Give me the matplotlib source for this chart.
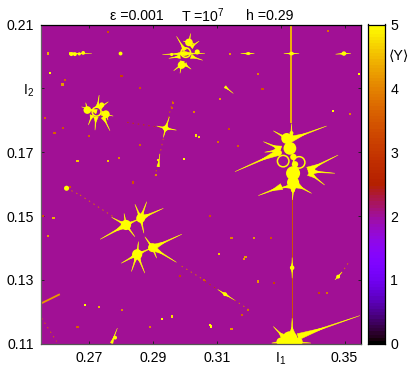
import numpy as np
import matplotlib
matplotlib.use('Agg')
import matplotlib.pyplot as plt
from matplotlib.patches import Circle

plt.rcParams['font.family'] = ['Liberation Sans', 'DejaVu Sans']
plt.rcParams['mathtext.default'] = 'regular'

# ---- data (I1, I2 action coordinates, <Y> values) ----
background_Y = 2.0
I1_range = [0.255, 0.355]
I2_range = [0.11, 0.21]
x_ticks = [0.27, 0.29, 0.31, 0.33, 0.35]
x_labels = ['0.27', '0.29', '0.31', r'I$_1$', '0.35']
y_ticks = [0.11, 0.13, 0.15, 0.17, 0.19, 0.21]
y_labels = ['0.11', '0.13', '0.15', '0.17', r'I$_2$', '0.21']
cb_ticks = [0, 1, 2, 3, 4, 5]

# strong resonance spikes: start I1, start I2, tip I1, tip I2
spikes_top_ring = [(.2998,.2009,.2930,.2006),(.2998,.2009,.3063,.2009),(.3013,.2040,.3018,.2072),
                   (.3000,.2020,.2974,.2063),(.2992,.1985,.2985,.1947),(.3020,.2000,.3056,.1988),
                   (.2985,.2000,.2950,.1994),(.3020,.2030,.3045,.2048),(.2990,.1975,.2965,.1955),
                   (.3000,.1975,.3020,.1960),(.3013,.2044,.2995,.2048),(.3013,.2044,.3030,.2040)]
spikes_left_ring = [(.2724,.1827,.2677,.1842),(.2727,.1840,.2732,.1879),(.2735,.1840,.2761,.1858),
                    (.2740,.1822,.2776,.1813),(.2710,.1815,.2698,.1785),(.2722,.1810,.2719,.1769),
                    (.2745,.1810,.2766,.1767),(.2695,.1832,.2690,.1855),(.2753,.1819,.2760,.1800)]
spikes_mid_star = [(.2940,.1775,.2912,.1782),(.2940,.1775,.2974,.1769),(.2940,.1775,.2952,.1811),
                   (.2940,.1775,.2933,.1746)]
spikes_big_upper = [(.3319,.1743,.3277,.1767),(.3330,.1740,.3444,.1782),(.3300,.1710,.3246,.1733),
                    (.3295,.1700,.3157,.1639),(.3334,.1740,.3334,.1790),(.3290,.1705,.3250,.1700)]
spikes_big_lower = [(.3386,.1644,.3480,.1691),(.3390,.1640,.3470,.1634),(.3390,.1635,.3438,.1597),
                    (.3339,.1595,.3272,.1583),(.3303,.1592,.3230,.1564),(.3350,.1597,.3397,.1571),
                    (.3339,.1590,.3337,.1550)]
spikes_bottom = [(.3355,.1122,.3548,.1188),(.3310,.1120,.3277,.1154),(.3336,.1130,.3336,.1180),
                 (.3300,.1105,.3272,.1102),(.3340,.1105,.3395,.1102)]
spikes_quad = [(.2816,.1472,.2735,.1427),(.2816,.1472,.2771,.1496),(.2816,.1472,.2810,.1508),
               (.2816,.1472,.2844,.1435),(.2862,.1493,.2844,.1537),(.2862,.1493,.2881,.1545),
               (.2862,.1493,.2933,.1524),(.2862,.1493,.2872,.1446),(.2851,.1380,.2801,.1352),
               (.2851,.1380,.2833,.1326),(.2851,.1380,.2875,.1321),(.2851,.1380,.2855,.1420),
               (.2899,.1401,.2875,.1435),(.2899,.1401,.2991,.1443),(.2899,.1401,.2912,.1368),
               (.2899,.1401,.2974,.1355),(.2816,.1472,.2862,.1493),(.2851,.1380,.2899,.1401)]
spikes_small = [(.3126,.1255,.3103,.1270),(.3126,.1255,.3155,.1237),(.2771,.1102,.2789,.1149),
                (.2639,.2009,.2709,.2009),(.3334,.2009,.3310,.2009),(.3334,.2009,.3358,.2009),
                (.3480,.1310,.3492,.1325),(.3480,.1310,.3470,.1300),(.3336,.1338,.3336,.1370),
                (.3336,.1338,.3336,.1305),(.3498,.2009,.3472,.2007),(.3498,.2009,.3520,.2009),
                (.3199,.2009,.3175,.2009),(.3199,.2009,.3218,.2009),(.3126,.1905,.3152,.1884),
                (.2917,.1655,.2922,.1695)]

# blobs saturated at <Y> = 5: I1, I2, radius
blobs = [(.3013,.2044,.0012),(.3039,.2014,.0008),(.2990,.1973,.0012),(.2959,.2006,.0005),
         (.2695,.1832,.0012),(.2753,.1819,.0012),(.2740,.1848,.0008),(.2940,.1775,.0008),
         (.2656,.2007,.0006),(.2645,.2007,.0006),(.2682,.2011,.0006),(.2670,.2008,.0005),
         (.2799,.2009,.0006),(.2630,.1587,.0008),
         (.3334,.2009,.0006),(.3498,.2009,.0007),(.3199,.2009,.0004),
         (.3329,.1712,.0020),(.3319,.1743,.0017),(.3334,.1760,.0006),(.3339,.1634,.0022),
         (.3339,.1605,.0019),(.3397,.1642,.0012),(.3295,.1698,.0009),(.3340,.1685,.0010),
         (.3345,.1662,.0010),(.3339,.1580,.0006),
         (.2816,.1472,.0016),(.2862,.1493,.0014),(.2851,.1380,.0016),(.2899,.1401,.0014),
         (.3329,.1115,.0024),(.3300,.1106,.0013),(.3356,.1106,.0013),(.3336,.1338,.0007),
         (.3126,.1255,.0006),(.3480,.1310,.0006),(.2782,.1119,.0006)]

# ring-shaped islands: I1, I2, radius
rings = [(.3003,.2012,.0015),(.2724,.1827,.0014),(.3358,.1668,.0018),(.3308,.1672,.0018)]

# orange/gold isolated resonance specks: I1, I2, <Y>
specks_I1 = [.2664,.2759,.2795,.2917,.2998,.3044,.3036,.2964,.2960,.2592,.2617,.2571,.2578,.2563,.2860,
             .2759,.2860,.3030,.2802,.3230,.3110,.3449,.3517,.3105,.3167,.3138,.3243,.3141,.3546,
             .3465,.3108,.3186,.3190,.3217,.3146,.3079,.3083,.3146,.3230,.3444,.2928,.2959,.2589,
             .2571,.2731,.2688,.2804,.2664,.3199,.3180,.2556,.2910,.2838,.2985,.3060,.2890,.3280,
             .2640,.2625,.3080,.3270,.3420,.2620,.2700]
specks_I2 = [.1673,.1672,.1681,.1676,.1678,.1748,.1752,.1853,.1838,.1761,.1912,.2009,.1947,.1806,.1902,
             .2077,.1722,.1825,.1938,.1945,.1866,.2079,.1819,.1733,.1720,.1772,.1899,.2007,.1945,
             .1829,.1381,.1365,.1372,.1430,.1430,.1159,.1154,.1146,.1295,.1258,.1177,.1185,.1493,
             .1438,.1214,.1221,.1206,.1153,.1206,.1190,.1500,.1628,.1605,.1312,.1300,.1152,.1290,
             .1590,.1925,.1500,.1430,.1260,.1775,.1750]
specks_Y = [4.6,4.6,4.0,4.8,5.0,4.8,4.8,3.8,3.6,3.6,4.2,4.4,5.0,3.6,3.4,
            3.4,3.6,4.0,3.2,4.0,4.2,3.8,4.0,3.8,3.6,3.4,3.4,4.2,5.0,
            5.0,4.6,4.2,4.2,4.2,4.0,5.0,5.0,4.2,4.2,3.8,5.0,4.8,4.4,
            4.2,4.4,5.0,4.0,3.6,3.8,3.6,3.4,4.0,3.4,3.2,3.6,4.0,3.2,3.4,3.6,3.4,3.4,3.2,3.4,3.6]

# solid thin filaments: start I1, start I2, end I1, end I2, <Y>
filaments = [(.3334,.2100,.3334,.1790,4.55),(.3336,.1555,.3336,.1150,3.4),
             (.2552,.1227,.2609,.1255,4.2)]
# broken faint filaments: start I1, start I2, end I1, end I2, <Y>
dotted_filaments = [(.2940,.1775,.2964,.1868,3.6),(.2940,.1775,.2907,.1625,3.6),(.2940,.1775,.2810,.1795,3.0),
                    (.2672,.1566,.2780,.1495,3.8),(.2630,.1587,.2672,.1566,3.8),(.2990,.1343,.3068,.1295,3.8),
                    (.3155,.1237,.3209,.1201,3.8),(.3063,.1295,.3103,.1270,3.0),(.3490,.1320,.3511,.1352,3.8),
                    (.2552,.1180,.2599,.1107,3.6)]

# ---- figure ----
W, H = 415, 374
fig = plt.figure(figsize=(W/100, H/100), dpi=100)
ax = fig.add_axes([41/W, 1-343.7/H, 319.5/W, 319.2/H])
cmap = plt.get_cmap('gnuplot')
norm = plt.Normalize(0, 5)
ax.imshow(np.full((2, 2), background_Y), extent=I1_range+I2_range, origin='lower', cmap=cmap, norm=norm,
          aspect='auto', interpolation='nearest')

yellow = cmap(norm(5))
for x0, y0, x1, y1, v in filaments:
    ax.plot([x0, x1], [y0, y1], color=cmap(norm(v)),
            lw=1.3 if v > 4 else 0.7, solid_capstyle='butt', zorder=2)
for x0, y0, x1, y1, v in dotted_filaments:
    ax.plot([x0, x1], [y0, y1], color=cmap(norm(v)), lw=0.7, ls=(0, (1.5, 4)), zorder=2)

def triangle(x0, y0, x1, y1, hw):
    d = np.array([x1-x0, y1-y0]); n = np.array([-d[1], d[0]])/np.hypot(*d)*hw
    ax.fill([x0+n[0], x1, x0-n[0]], [y0+n[1], y1, y0-n[1]], color=yellow, lw=0.35, zorder=3)

def spike(x0, y0, x1, y1, hw):
    # a thin long needle on a short wide base gives the concave resonance arm
    triangle(x0, y0, x1, y1, hw*0.45)
    triangle(x0, y0, x0+(x1-x0)*0.45, y0+(y1-y0)*0.45, hw*1.4)

for group, hw in [(spikes_top_ring, .0005), (spikes_left_ring, .0005), (spikes_mid_star, .0005),
                  (spikes_big_upper, .0007), (spikes_big_lower, .0007), (spikes_bottom, .0007),
                  (spikes_quad, .0007), (spikes_small, .0003)]:
    for s in group:
        spike(*s, hw)
for x, y, r in blobs:
    ax.add_patch(Circle((x, y), r, color=yellow, lw=0, zorder=3))
for x, y, r in rings:
    ax.add_patch(Circle((x, y), r, fill=False, ec=yellow, lw=1.1, zorder=3))
ax.scatter(specks_I1, specks_I2, c=specks_Y, cmap=cmap, norm=norm, s=2.5, marker='s', lw=0, zorder=2.5)

ax.set_xlim(I1_range); ax.set_ylim(I2_range)
ax.set_xticks(x_ticks, x_labels, fontsize=10.2)
ax.set_yticks(y_ticks, y_labels, fontsize=10.2)
ax.tick_params(direction='in', length=2.5, width=0.7, top=True, right=True, pad=5, color='#222222')
for s, c in [('left', '#666666'), ('bottom', '#555555'), ('top', 'black'), ('right', 'black')]:
    ax.spines[s].set_color(c); ax.spines[s].set_linewidth(0.9); ax.spines[s].set_zorder(6)

# colour bar
cax = fig.add_axes([368.3/W, 1-343.7/H, 16.4/W, 319.2/H])
ramp = np.linspace(0, 5, 101).reshape(-1, 1)
cax.imshow(ramp, origin='lower', extent=[0, 1, 0, 5], cmap=cmap, norm=norm, aspect='auto', interpolation='nearest')
cax.set_xticks([]); cax.yaxis.tick_right()
cax.set_yticks(cb_ticks, [str(t) for t in cb_ticks], fontsize=10.2)
cax.tick_params(direction='in', length=0, pad=4)
for s in cax.spines.values():
    s.set_linewidth(0.9)

def label(px, py, txt, **kw):
    fig.text(px/W, 1-py/H, txt, fontsize=10.2, va='center', ha='left', **kw)
label(110, 15.5, 'ε =0.001')
label(181, 15.5, r'T =10$^{7}$')
label(245.5, 15.5, 'h =0.29')
label(389, 56, '⟨Y⟩')

fig.savefig('out.png', dpi=100)
